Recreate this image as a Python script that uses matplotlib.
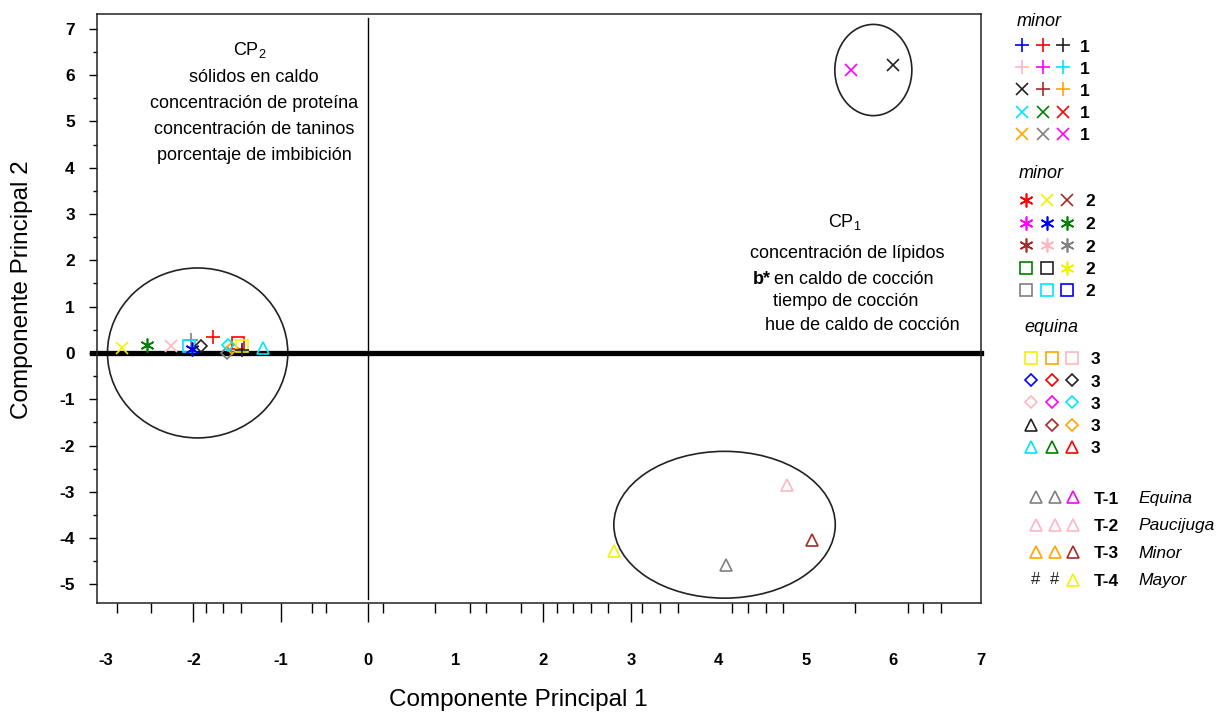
import numpy as np
import matplotlib
matplotlib.use("Agg")
import matplotlib.pyplot as plt
from matplotlib.patches import Ellipse

plt.rcParams['font.family'] = ['Liberation Sans', 'DejaVu Sans']
plt.rcParams['mathtext.fontset'] = 'custom'
plt.rcParams['mathtext.rm'] = 'Liberation Sans'
plt.rcParams['mathtext.default'] = 'regular'

# scores on the first two principal components
pc1 = [-2.81, -2.53, -2.25, -2.03, -2.05, -2.02, -1.91, -1.77, -1.49, -1.61,
       -1.56, -1.60, -1.44, -1.44, -1.20, 5.52, 6.00, 4.78, 5.07, 4.09, 2.81]
pc2 = [0.10, 0.17, 0.15, 0.28, 0.14, 0.09, 0.15, 0.35, 0.21, -0.01,
       0.10, 0.17, 0.14, 0.06, 0.10, 6.11, 6.22, -2.85, -4.04, -4.58, -4.28]
point_symbol = ['x', 'ast', 'x', '+', 's', 'ast', 'D', '+', 's', 'D',
                'D', 'D', 's', '+', '^', 'x', 'x', '^', '^', '^', '^']
point_color = ['yellow', 'green', 'pink', 'gray', 'cyan', 'blue', 'black', 'red', 'red', 'gray',
               'orange', 'cyan', 'yellow', 'black', 'cyan', 'magenta', 'black', 'pink', 'brown', 'gray',
               'yellow']

# groups drawn as ellipses (center, width, height)
ell_x = [-1.95, 5.77, 4.07]
ell_y = [0.0, 6.11, -3.71]
ell_w = [2.06, 0.88, 2.53]
ell_h = [3.67, 1.97, 3.17]

cp2_lines = ['sólidos en caldo', 'concentración de proteína',
             'concentración de taninos', 'porcentaje de imbibición']
cp1_lines = ['concentración de lípidos', 'b*', ' en caldo de cocción',
             'tiempo de cocción', 'hue de caldo de cocción']

# legend blocks
leg1_title, leg1_num = 'minor', '1'
leg1_sym = [['+', '+', '+'], ['+', '+', '+'], ['x', '+', '+'], ['x', 'x', 'x'], ['x', 'x', 'x']]
leg1_col = [['blue', 'red', 'black'], ['pink', 'magenta', 'cyan'], ['black', 'brown', 'orange'],
            ['cyan', 'green', 'red'], ['orange', 'gray', 'magenta']]
leg2_title, leg2_num = 'minor', '2'
leg2_sym = [['ast', 'x', 'x'], ['ast', 'ast', 'ast'], ['ast', 'ast', 'ast'], ['s', 's', 'ast'], ['s', 's', 's']]
leg2_col = [['red', 'yellow', 'brown'], ['magenta', 'blue', 'green'], ['brown', 'pink', 'gray'],
            ['green', 'black', 'yellow'], ['gray', 'cyan', 'blue']]
leg3_title, leg3_num = 'equina', '3'
leg3_sym = [['s', 's', 's'], ['D', 'D', 'D'], ['D', 'D', 'D'], ['^', 'D', 'D'], ['^', '^', '^']]
leg3_col = [['yellow', 'orange', 'pink'], ['blue', 'red', 'black'], ['pink', 'magenta', 'cyan'],
            ['black', 'brown', 'orange'], ['cyan', 'green', 'red']]
leg4_sym = [['^', '^', '^'], ['^', '^', '^'], ['^', '^', '^'], ['#', '#', '^']]
leg4_col = [['gray', 'gray', 'magenta'], ['pink', 'pink', 'pink'], ['orange', 'orange', 'brown'],
            ['black', 'black', 'yellow']]
leg4_code = ['T-1', 'T-2', 'T-3', 'T-4']
leg4_name = ['Equina', 'Paucijuga', 'Minor', 'Mayor']

palette = {'blue': '#0000ff', 'red': '#ff0000', 'black': '#222222', 'pink': '#ffb6c1',
           'magenta': '#ff00ff', 'cyan': '#00e5ff', 'brown': '#a52a2a', 'orange': '#ffa500',
           'green': '#008000', 'gray': '#808080', 'yellow': '#f2f200'}
markers = {'+': ('+', 10), 'x': ('x', 8.5), 'ast': ((6, 2, 0), 10), 's': ('s', 8),
           'D': ('D', 6), '^': ('^', 8.5)}


def draw_marker(axis, x, y, sym, col, **kw):
    if sym == '#':
        axis.text(x, y, '#', color=palette[col], fontsize=12, ha='center', va='center')
        return
    m, ms = markers[sym]
    axis.plot(x, y, linestyle='none', marker=m, markersize=ms, markerfacecolor='none',
              markeredgecolor=palette[col], color=palette[col], markeredgewidth=1.2, **kw)


W, H = 1224, 713
fig = plt.figure(figsize=(W / 100, H / 100), dpi=100)
ax = fig.add_axes([97 / W, 1 - 603 / H, (981 - 97) / W, (603 - 14) / H])
ax.set_xlim(-3.1, 7.0)
ax.set_ylim(-5.4, 7.32)

for cx, cy, w, h in zip(ell_x, ell_y, ell_w, ell_h):
    ax.add_patch(Ellipse((cx, cy), w, h, fill=False, edgecolor='#222222', linewidth=1.2))

# zero line pokes slightly past the left frame
ax.plot([-3.16, 7.0], [0, 0], color='black', linewidth=3.8, zorder=1, clip_on=False)
ax.axvline(0, ymin=0.007, ymax=0.993, color='black', linewidth=1, zorder=1)

for x, y, s, c in zip(pc1, pc2, point_symbol, point_color):
    draw_marker(ax, x, y, s, c, zorder=3)

# tick labels sit well below the frame; marks come from a secondary axis
ax.set_xticks(range(-3, 8))
ax.set_xticklabels([str(v) for v in range(-3, 8)], fontweight='bold', fontsize=12)
ax.tick_params(axis='x', length=0, pad=36)
sec = ax.secondary_xaxis('bottom')
sec.set_xticks([-2, -1, 0, 2, 3])
sec.set_xticklabels([])
sec.set_xticks([-2.87, -2.48, -1.85, -1.66, -1.46, -0.64, -0.48, 0.17, 0.76, 1.16, 1.35,
                1.75, 2.15, 2.34, 2.54, 2.74, 3.13, 3.33, 3.54, 4.15, 4.34, 4.54, 4.74,
                5.56, 6.17, 6.34, 6.54], minor=True)
sec.tick_params(which='major', length=14, width=1)
sec.tick_params(which='minor', length=7, width=1)
sec.spines['bottom'].set_visible(False)

ax.set_yticks(range(-5, 8))
ax.set_yticklabels([str(v) for v in range(-5, 8)], fontweight='bold', fontsize=12.5)
ax.set_yticks(np.arange(-5, 7.5, 0.5), minor=True)
ax.tick_params(axis='y', which='major', length=6, width=1, pad=10)
ax.tick_params(axis='y', which='minor', length=3, width=1)
for sp in ax.spines.values():
    sp.set_linewidth(1.1)
    sp.set_color('#222222')

fig.text(518 / W, 1 - 700 / H, 'Componente Principal 1', ha='center', va='center', fontsize=17.5)
fig.text(22 / W, 1 - 290 / H, 'Componente Principal 2', ha='center', va='center',
         fontsize=17.5, rotation=90)

# overlay in pixel units for the text blocks and legend
lay = fig.add_axes([0, 0, 1, 1], facecolor='none')
lay.set_xlim(0, W)
lay.set_ylim(H, 0)
lay.axis('off')

lay.text(250, 50, 'CP$_2$', ha='center', va='center', fontsize=13)
for i, t in enumerate(cp2_lines):
    lay.text(254, 78 + 26 * i, t, ha='center', va='center', fontsize=13)

lay.text(845, 222, 'CP$_1$', ha='center', va='center', fontsize=13)
lay.text(750, 254, cp1_lines[0], ha='left', va='center', fontsize=13)
lay.text(753, 279, cp1_lines[1], ha='left', va='center', fontsize=13, fontweight='bold')
lay.text(769, 279, cp1_lines[2], ha='left', va='center', fontsize=13)
lay.text(773, 302, cp1_lines[3], ha='left', va='center', fontsize=13)
lay.text(765, 326, cp1_lines[4], ha='left', va='center', fontsize=13)


def legend_block(title, tx, ty, syms, cols, num, x0, y0, dx, dy, nx):
    lay.text(tx, ty, title, style='italic', fontsize=13, ha='left', va='center')
    for r, (srow, crow) in enumerate(zip(syms, cols)):
        y = y0 + dy * r
        for k, (s, c) in enumerate(zip(srow, crow)):
            draw_marker(lay, x0 + dx * k, y, s, c)
        lay.text(nx, y + 2, num, fontweight='bold', fontsize=12.5, ha='center', va='center')


legend_block(leg1_title, 1017, 22, leg1_sym, leg1_col, leg1_num, 1022, 45, 20.5, 22.2, 1085)
legend_block(leg2_title, 1019, 173, leg2_sym, leg2_col, leg2_num, 1026, 200, 20.5, 22.5, 1090)
legend_block(leg3_title, 1024, 327, leg3_sym, leg3_col, leg3_num, 1031, 358, 20.5, 22.2, 1095)

for r in range(len(leg4_code)):
    y = 497 + 27.5 * r
    for k, (s, c) in enumerate(zip(leg4_sym[r], leg4_col[r])):
        draw_marker(lay, 1036 + 18.5 * k, y, s, c)
    lay.text(1094, y + 2, leg4_code[r], fontweight='bold', fontsize=12.5, ha='left', va='center')
    lay.text(1138, y + 1, leg4_name[r], style='italic', fontsize=12.5, ha='left', va='center')

fig.savefig('out.png', dpi=100)
